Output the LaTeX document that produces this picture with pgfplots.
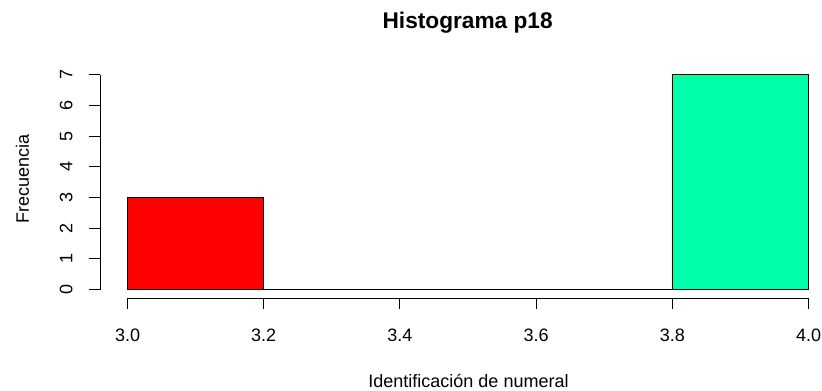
\documentclass[border=0pt]{standalone}
\usepackage{fontspec}
\setmainfont{Liberation Sans}
\usepackage{pgfplots}
\pgfplotsset{compat=1.18}
\definecolor{histgreen}{RGB}{0,255,170}
\begin{document}
\begin{tikzpicture}
\begin{axis}[
  name=ax,
  scale only axis,
  width=541.275pt, height=173.775pt,
  xmin=2.96, xmax=4.0198, ymin=-0.28, ymax=7.28,
  axis x line*=bottom, axis y line*=left,
  axis line style={draw=none},
  clip=false,
  tick align=outside,
  major tick length=8.5pt,
  tick style={black, line width=0.75pt},
  xtick={3.0,3.2,3.4,3.6,3.8,4.0},
  xticklabels={3.0,3.2,3.4,3.6,3.8,4.0},
  ytick={0,1,2,3,4,5,6,7},
  /pgf/number format/assume math mode=true,
  tick label style={font=\fontsize{13.5pt}{16pt}\selectfont},
  xticklabel style={anchor=base, yshift=-23.75pt},
  yticklabel style={xshift=-12.5pt, rotate=90, anchor=base},
  xlabel={Identificación de numeral},
  ylabel={Frecuencia},
  xlabel style={font=\fontsize{13.5pt}{16pt}\selectfont, at={(axis description cs:0.5102,-0.3841)}, anchor=base},
  ylabel style={font=\fontsize{13.5pt}{16pt}\selectfont, at={(axis description cs:-0.0988,0.514)}, anchor=base},
  title={Histograma p18},
  title style={font=\fontsize{17pt}{20pt}\selectfont\bfseries, at={(axis description cs:0.509,1.13)}, anchor=base},
]
\addplot[ybar interval, fill=red, draw=black, line width=0.75pt] coordinates {(3.0,3) (3.2,3)};
\addplot[ybar interval, fill=white, draw=black, line width=0.75pt] coordinates {(3.2,0) (3.4,0) (3.6,0) (3.8,0)};
\addplot[ybar interval, fill=histgreen, draw=black, line width=0.75pt] coordinates {(3.8,7) (4.0,7)};
\draw[black, line width=0.75pt] (axis cs:3.0,-0.28) -- (axis cs:4.0,-0.28);
\draw[black, line width=0.75pt] (axis cs:2.96,0) -- (axis cs:2.96,7);
\end{axis}
\pgfresetboundingbox
\path[use as bounding box] ([xshift=-75.225pt, yshift=-69.675pt]ax.south west) rectangle ([yshift=49.8pt]ax.north east);
\end{tikzpicture}
\end{document}
